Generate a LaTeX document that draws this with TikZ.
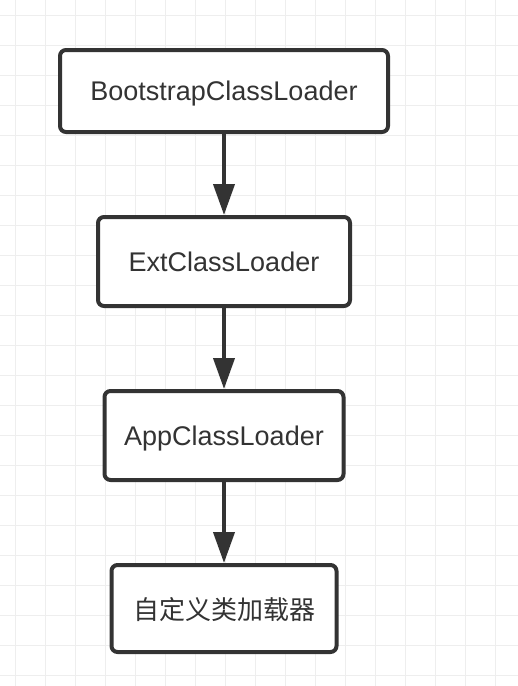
\documentclass[tikz,border=0pt]{standalone}
\usepackage{fontspec}
\setmainfont{Liberation Sans}
\newfontfamily\cjk{Noto Sans CJK SC}
\usepackage{tikz}
\usetikzlibrary{arrows.meta, positioning}
\definecolor{LoaderGray}{HTML}{333333}
\definecolor{GridGray}{HTML}{EEEEEE}

\begin{document}
\begin{tikzpicture}[
        x=1pt, y=-1pt,
        node distance=81pt,
        every node/.style={align=center, font=\fontsize{27}{32}\selectfont, text=LoaderGray, text depth=0pt},
        box/.style={draw=LoaderGray, line width=4pt, rounded corners=6pt, fill=white, minimum height=89pt},
        arrow/.style={draw=LoaderGray, line width=4pt, -{Triangle[length=31pt, width=21pt]}}
    ]
        % background grid
        \fill[white] (0,0) rectangle (518,686);
        \useasboundingbox (0,0) rectangle (518,686);
        \foreach \x in {15,45,...,495} \draw[GridGray, line width=1pt] (\x,0) -- (\x,686);
        \foreach \y in {15,45,...,675} \draw[GridGray, line width=1pt] (0,\y) -- (518,\y);

        \node[box, minimum width=328pt, minimum height=82pt] (boot) at (224,91) {BootstrapClassLoader};
        \node[box, minimum width=252pt, below=of boot] (ext) {ExtClassLoader};
        \node[box, minimum width=239pt, below=of ext] (app) {AppClassLoader};
        \node[box, minimum width=225pt, minimum height=87pt, below=of app, font=\fontsize{26}{32}\selectfont\cjk] (custom) {自定义类加载器};

        \draw[arrow] (boot) -- (ext);
        \draw[arrow] (ext) -- (app);
        \draw[arrow] (app) -- (custom);
    \end{tikzpicture}
\end{document}
